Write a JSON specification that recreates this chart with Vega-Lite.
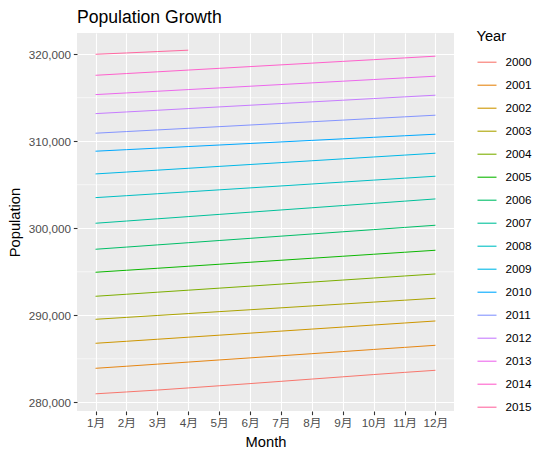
{
  "$schema": "https://vega.github.io/schema/vega-lite/v6.json",
  "width": 377,
  "height": 378,
  "autosize": {"type": "none"},
  "padding": {"left": 77, "top": 33, "right": 96, "bottom": 45},
  "title": {"text": "Population Growth", "anchor": "start", "frame": "group", "fontSize": 17.6, "font": "Liberation Sans", "fontWeight": "normal", "color": "#000000", "baseline": "alphabetic", "offset": 12, "dy": 24},
  "datasets": {
    "pop": [
      {"Year":"2000","Month":"1月","Population":280976},{"Year":"2000","Month":"2月","Population":281190},{"Year":"2000","Month":"3月","Population":281409},{"Year":"2000","Month":"4月","Population":281653},{"Year":"2000","Month":"5月","Population":281900},{"Year":"2000","Month":"6月","Population":282150},{"Year":"2000","Month":"7月","Population":282410},{"Year":"2000","Month":"8月","Population":282670},{"Year":"2000","Month":"9月","Population":282930},{"Year":"2000","Month":"10月","Population":283190},{"Year":"2000","Month":"11月","Population":283440},{"Year":"2000","Month":"12月","Population":283680},
      {"Year":"2001","Month":"1月","Population":283908},{"Year":"2001","Month":"2月","Population":284145},{"Year":"2001","Month":"3月","Population":284385},{"Year":"2001","Month":"4月","Population":284622},{"Year":"2001","Month":"5月","Population":284866},{"Year":"2001","Month":"6月","Population":285105},{"Year":"2001","Month":"7月","Population":285348},{"Year":"2001","Month":"8月","Population":285588},{"Year":"2001","Month":"9月","Population":285830},{"Year":"2001","Month":"10月","Population":286072},{"Year":"2001","Month":"11月","Population":286312},{"Year":"2001","Month":"12月","Population":286552},
      {"Year":"2002","Month":"1月","Population":286782},{"Year":"2002","Month":"2月","Population":287012},{"Year":"2002","Month":"3月","Population":287245},{"Year":"2002","Month":"4月","Population":287480},{"Year":"2002","Month":"5月","Population":287712},{"Year":"2002","Month":"6月","Population":287948},{"Year":"2002","Month":"7月","Population":288180},{"Year":"2002","Month":"8月","Population":288414},{"Year":"2002","Month":"9月","Population":288645},{"Year":"2002","Month":"10月","Population":288880},{"Year":"2002","Month":"11月","Population":289112},{"Year":"2002","Month":"12月","Population":289345},
      {"Year":"2003","Month":"1月","Population":289540},{"Year":"2003","Month":"2月","Population":289758},{"Year":"2003","Month":"3月","Population":289978},{"Year":"2003","Month":"4月","Population":290197},{"Year":"2003","Month":"5月","Population":290417},{"Year":"2003","Month":"6月","Population":290636},{"Year":"2003","Month":"7月","Population":290855},{"Year":"2003","Month":"8月","Population":291075},{"Year":"2003","Month":"9月","Population":291294},{"Year":"2003","Month":"10月","Population":291514},{"Year":"2003","Month":"11月","Population":291733},{"Year":"2003","Month":"12月","Population":291954},
      {"Year":"2004","Month":"1月","Population":292184},{"Year":"2004","Month":"2月","Population":292416},{"Year":"2004","Month":"3月","Population":292650},{"Year":"2004","Month":"4月","Population":292882},{"Year":"2004","Month":"5月","Population":293116},{"Year":"2004","Month":"6月","Population":293349},{"Year":"2004","Month":"7月","Population":293582},{"Year":"2004","Month":"8月","Population":293815},{"Year":"2004","Month":"9月","Population":294048},{"Year":"2004","Month":"10月","Population":294281},{"Year":"2004","Month":"11月","Population":294514},{"Year":"2004","Month":"12月","Population":294747},
      {"Year":"2005","Month":"1月","Population":294943},{"Year":"2005","Month":"2月","Population":295172},{"Year":"2005","Month":"3月","Population":295402},{"Year":"2005","Month":"4月","Population":295632},{"Year":"2005","Month":"5月","Population":295862},{"Year":"2005","Month":"6月","Population":296092},{"Year":"2005","Month":"7月","Population":296322},{"Year":"2005","Month":"8月","Population":296552},{"Year":"2005","Month":"9月","Population":296782},{"Year":"2005","Month":"10月","Population":297011},{"Year":"2005","Month":"11月","Population":297241},{"Year":"2005","Month":"12月","Population":297471},
      {"Year":"2006","Month":"1月","Population":297586},{"Year":"2006","Month":"2月","Population":297836},{"Year":"2006","Month":"3月","Population":298087},{"Year":"2006","Month":"4月","Population":298338},{"Year":"2006","Month":"5月","Population":298589},{"Year":"2006","Month":"6月","Population":298840},{"Year":"2006","Month":"7月","Population":299091},{"Year":"2006","Month":"8月","Population":299342},{"Year":"2006","Month":"9月","Population":299593},{"Year":"2006","Month":"10月","Population":299843},{"Year":"2006","Month":"11月","Population":300094},{"Year":"2006","Month":"12月","Population":300345},
      {"Year":"2007","Month":"1月","Population":300575},{"Year":"2007","Month":"2月","Population":300829},{"Year":"2007","Month":"3月","Population":301083},{"Year":"2007","Month":"4月","Population":301337},{"Year":"2007","Month":"5月","Population":301591},{"Year":"2007","Month":"6月","Population":301845},{"Year":"2007","Month":"7月","Population":302099},{"Year":"2007","Month":"8月","Population":302353},{"Year":"2007","Month":"9月","Population":302607},{"Year":"2007","Month":"10月","Population":302860},{"Year":"2007","Month":"11月","Population":303114},{"Year":"2007","Month":"12月","Population":303368},
      {"Year":"2008","Month":"1月","Population":303517},{"Year":"2008","Month":"2月","Population":303741},{"Year":"2008","Month":"3月","Population":303965},{"Year":"2008","Month":"4月","Population":304188},{"Year":"2008","Month":"5月","Population":304412},{"Year":"2008","Month":"6月","Population":304636},{"Year":"2008","Month":"7月","Population":304859},{"Year":"2008","Month":"8月","Population":305083},{"Year":"2008","Month":"9月","Population":305306},{"Year":"2008","Month":"10月","Population":305530},{"Year":"2008","Month":"11月","Population":305753},{"Year":"2008","Month":"12月","Population":305977},
      {"Year":"2009","Month":"1月","Population":306241},{"Year":"2009","Month":"2月","Population":306457},{"Year":"2009","Month":"3月","Population":306674},{"Year":"2009","Month":"4月","Population":306890},{"Year":"2009","Month":"5月","Population":307106},{"Year":"2009","Month":"6月","Population":307323},{"Year":"2009","Month":"7月","Population":307539},{"Year":"2009","Month":"8月","Population":307755},{"Year":"2009","Month":"9月","Population":307972},{"Year":"2009","Month":"10月","Population":308188},{"Year":"2009","Month":"11月","Population":308404},{"Year":"2009","Month":"12月","Population":308621},
      {"Year":"2010","Month":"1月","Population":308851},{"Year":"2010","Month":"2月","Population":309029},{"Year":"2010","Month":"3月","Population":309206},{"Year":"2010","Month":"4月","Population":309384},{"Year":"2010","Month":"5月","Population":309562},{"Year":"2010","Month":"6月","Population":309740},{"Year":"2010","Month":"7月","Population":309917},{"Year":"2010","Month":"8月","Population":310095},{"Year":"2010","Month":"9月","Population":310272},{"Year":"2010","Month":"10月","Population":310450},{"Year":"2010","Month":"11月","Population":310627},{"Year":"2010","Month":"12月","Population":310805},
      {"Year":"2011","Month":"1月","Population":310920},{"Year":"2011","Month":"2月","Population":311108},{"Year":"2011","Month":"3月","Population":311296},{"Year":"2011","Month":"4月","Population":311484},{"Year":"2011","Month":"5月","Population":311672},{"Year":"2011","Month":"6月","Population":311861},{"Year":"2011","Month":"7月","Population":312049},{"Year":"2011","Month":"8月","Population":312237},{"Year":"2011","Month":"9月","Population":312425},{"Year":"2011","Month":"10月","Population":312613},{"Year":"2011","Month":"11月","Population":312801},{"Year":"2011","Month":"12月","Population":312989},
      {"Year":"2012","Month":"1月","Population":313172},{"Year":"2012","Month":"2月","Population":313364},{"Year":"2012","Month":"3月","Population":313556},{"Year":"2012","Month":"4月","Population":313749},{"Year":"2012","Month":"5月","Population":313941},{"Year":"2012","Month":"6月","Population":314133},{"Year":"2012","Month":"7月","Population":314326},{"Year":"2012","Month":"8月","Population":314518},{"Year":"2012","Month":"9月","Population":314710},{"Year":"2012","Month":"10月","Population":314902},{"Year":"2012","Month":"11月","Population":315095},{"Year":"2012","Month":"12月","Population":315287},
      {"Year":"2013","Month":"1月","Population":315356},{"Year":"2013","Month":"2月","Population":315548},{"Year":"2013","Month":"3月","Population":315740},{"Year":"2013","Month":"4月","Population":315933},{"Year":"2013","Month":"5月","Population":316125},{"Year":"2013","Month":"6月","Population":316317},{"Year":"2013","Month":"7月","Population":316510},{"Year":"2013","Month":"8月","Population":316702},{"Year":"2013","Month":"9月","Population":316894},{"Year":"2013","Month":"10月","Population":317086},{"Year":"2013","Month":"11月","Population":317279},{"Year":"2013","Month":"12月","Population":317471},
      {"Year":"2014","Month":"1月","Population":317575},{"Year":"2014","Month":"2月","Population":317775},{"Year":"2014","Month":"3月","Population":317974},{"Year":"2014","Month":"4月","Population":318174},{"Year":"2014","Month":"5月","Population":318373},{"Year":"2014","Month":"6月","Population":318573},{"Year":"2014","Month":"7月","Population":318773},{"Year":"2014","Month":"8月","Population":318972},{"Year":"2014","Month":"9月","Population":319172},{"Year":"2014","Month":"10月","Population":319371},{"Year":"2014","Month":"11月","Population":319571},{"Year":"2014","Month":"12月","Population":319770},
      {"Year":"2015","Month":"1月","Population":319990},{"Year":"2015","Month":"2月","Population":320140},{"Year":"2015","Month":"3月","Population":320300},{"Year":"2015","Month":"4月","Population":320460}
    ],
    "minor": [
      {"Population":285000},{"Population":295000},{"Population":305000},{"Population":315000}
    ]
  },
  "encoding": {
    "y": {
      "field": "Population", "type": "quantitative",
      "scale": {"domain": [279002, 322434], "nice": false, "zero": false},
      "axis": {"title": "Population", "format": ",.0f", "formatType": "number", "values": [280000, 290000, 300000, 310000, 320000], "titlePadding": 6}
    }
  },
  "layer": [
    {
      "data": {"name": "minor"},
      "mark": {"type": "rule", "color": "#FFFFFF", "strokeWidth": 0.6},
      "encoding": {}
    },
    {
      "data": {"name": "pop"},
      "mark": {"type": "line", "strokeWidth": 1},
      "encoding": {
        "x": {
          "field": "Month", "type": "ordinal",
          "sort": ["1月","2月","3月","4月","5月","6月","7月","8月","9月","10月","11月","12月"],
          "scale": {"type": "point", "padding": 0.6},
          "axis": {"title": "Month", "labelAngle": 0, "grid": true, "titlePadding": 5}
        },
        "color": {
          "field": "Year", "type": "nominal",
          "scale": {
            "domain": ["2000","2001","2002","2003","2004","2005","2006","2007","2008","2009","2010","2011","2012","2013","2014","2015"],
            "range": ["#F8766D","#E68613","#CD9600","#ABA300","#7CAE00","#0CB702","#00BE67","#00C19A","#00BFC4","#00B8E7","#00A9FF","#8494FF","#C77CFF","#ED68ED","#FF61CC","#FF68A1"]
          },
          "legend": {
            "title": "Year", "orient": "none", "legendX": 399.5, "legendY": -4,
            "symbolType": "stroke", "symbolSize": 361, "symbolStrokeWidth": 1.1,
            "labelOffset": 8, "rowPadding": 5, "titlePadding": 8
          }
        }
      }
    }
  ],
  "config": {
    "font": "Liberation Sans",
    "view": {"fill": "#EBEBEB", "stroke": null},
    "axis": {
      "domain": false,
      "grid": true,
      "gridColor": "#FFFFFF",
      "gridWidth": 1.1,
      "tickColor": "#333333",
      "tickSize": 3.67,
      "tickWidth": 1.1,
      "labelPadding": 2.9,
      "labelColor": "#4D4D4D",
      "labelFontSize": 11.7,
      "labelFont": "Liberation Sans, Noto Sans CJK SC",
      "titleFont": "Liberation Sans",
      "titleFontSize": 14.7,
      "titleFontWeight": "normal",
      "titleColor": "#000000"
    },
    "legend": {
      "titleFont": "Liberation Sans",
      "titleFontSize": 14.7,
      "titleFontWeight": "normal",
      "titleColor": "#000000",
      "labelFont": "Liberation Sans",
      "labelFontSize": 11.7,
      "labelColor": "#000000"
    }
  }
}
